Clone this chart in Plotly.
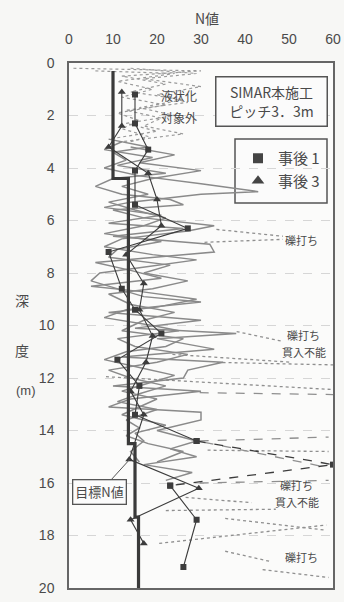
import plotly.graph_objects as go

# ---- axes ----
n_ticks = [0, 10, 20, 30, 40, 50, 60]
depth_ticks = [0, 2, 4, 6, 8, 10, 12, 14, 16, 18, 20]

# ---- 目標N値 (target N, stepped) ----
target_depth = [0.3, 4.4, 4.4, 14.5, 14.5, 17.3, 17.3, 20.0]
target_n = [10, 10, 13.5, 13.5, 15, 15, 15.8, 15.8]

# ---- 事前 continuous traces (grey) ----
pre_a_depth = [2.9, 3.2, 3.4, 3.7, 4.0, 4.3, 4.6, 4.9, 5.0, 5.3, 5.5, 5.8, 6.1, 6.3, 6.6, 6.9, 7.2, 7.4,
               7.6, 7.9, 8.2, 8.5, 8.7, 9.0, 9.3, 9.5, 9.8, 10.1, 10.3, 10.5, 10.9, 11.2, 11.4, 11.7,
               12.0, 12.3, 12.5, 12.8, 13.1, 13.3, 13.6, 14.0, 14.4, 14.7, 15.0, 15.3, 15.6, 15.9]
pre_a_n = [9, 18, 10, 13, 8, 16, 30, 43, 30, 14, 8, 21, 9, 26, 10, 32, 33, 20,
           6, 14, 21, 5, 16, 29, 20, 9, 30, 15, 38, 20, 33, 12, 35, 27,
           26, 10, 30, 14, 9, 30, 30, 20, 29, 23, 29, 17, 28, 22]

pre_b_depth = [3.0, 3.3, 3.6, 3.9, 4.2, 4.4, 4.7, 5.0, 5.2, 5.4, 5.6, 5.9, 6.2, 6.4, 6.7, 7.0, 7.3, 7.5,
               7.8, 8.0, 8.3, 8.6, 8.9, 9.1, 9.4, 9.7, 10.0, 10.2, 10.5, 10.8, 11.1, 11.4, 11.7, 12.0,
               12.3, 12.6, 12.9, 13.2, 13.6, 13.9, 14.2, 14.5, 14.8, 15.2]
pre_b_n = [12, 8, 19, 11, 22, 10, 6, 12, 23, 26, 10, 17, 33, 27, 12, 8, 19, 29,
           16, 7, 5, 11, 17, 30, 13, 8, 19, 25, 11, 15, 27, 20, 9, 14,
           22, 16, 11, 20, 13, 16, 13, 18, 26, 20]

pre_c_depth = [3.2, 3.5, 3.8, 4.1, 4.4, 4.7, 5.0, 5.3, 5.6, 5.9, 6.2, 6.5, 6.8, 7.1, 7.4, 7.7, 8.0, 8.3,
               8.6, 8.8, 9.2, 9.5, 9.8, 10.2, 10.5, 10.8, 11.0, 11.3, 11.6, 11.9, 12.2, 12.5, 12.8,
               13.1, 13.4, 13.8, 14.1, 14.4, 14.8, 15.2]
pre_c_n = [14, 24, 16, 30, 19, 12, 18, 9, 15, 22, 17, 8, 21, 11, 9, 23, 17, 27,
           19, 9, 14, 24, 17, 12, 26, 22, 13, 8, 16, 24, 18, 12, 20,
           16, 12, 22, 15, 17, 14, 16]

# ---- 液状化対象外 shallow layer (dotted) ----
top_a_depth = [0.2, 0.3, 0.5, 0.8, 1.1, 1.4, 1.7, 2.0, 2.3, 2.6, 2.9]
top_a_n = [1, 30, 12, 22, 14, 26, 16, 24, 13, 20, 9]
top_b_depth = [0.2, 0.4, 0.6, 0.9, 1.2, 1.5, 1.8, 2.1, 2.4, 2.7, 3.0]
top_b_n = [14, 29, 17, 30, 20, 27, 13, 21, 17, 26, 12]
top_c_depth = [0.3, 0.4, 0.7, 1.0, 1.3, 1.6, 1.9, 2.2, 2.5, 2.8, 3.0]
top_c_n = [6, 24, 11, 19, 12, 22, 11, 16, 12, 18, 14]

# ---- 礫打ち / 貫入不能 leaders (start N, start depth, end N, end depth, style) ----
gravel_n0 = [33.5, 30.8, 38.1, 23.5, 34.9, 8.4, 29.7, 29.7, 30.8, 31.5, 29.7, 26.5, 22.0, 35.5, 20.5, 35.5, 44.0]
gravel_d0 = [6.34, 6.83, 10.23, 11.1, 11.41, 11.95, 12.56, 14.4, 14.45, 14.75, 16.0, 16.55, 17.05, 17.35, 18.3, 18.6, 19.3]
gravel_n1 = [48.6, 48.6, 48.4, 50.6, 60, 60, 60, 59.0, 58.5, 59.0, 59.0, 41.5, 47.0, 58.5, 58.5, 46.0, 59.0]
gravel_d1 = [6.6, 6.72, 10.6, 11.4, 11.5, 12.44, 12.63, 14.25, 15.4, 14.8, 15.9, 16.75, 17.0, 17.8, 17.6, 19.0, 19.6]
gravel_dash = ["dot", "dot", "dot", "dot", "dot", "dot", "dash", "dash", "dash", "dot", "dash", "dot", "dot",
               "dot", "dot", "dot", "dot"]

# ---- 事後1 (squares) ----
post1_depth = [1.2, 2.3, 3.3, 4.1, 5.4, 6.3, 7.2, 8.6, 9.4, 10.3, 11.3, 12.3, 13.4, 14.4, 15.3, 16.1, 17.4, 19.2]
post1_n = [15, 15, 18, 15, 15, 27, 9, 12, 15, 21, 11, 16, 15, 29, 60, 23, 29, 26]

# ---- 事後3 (triangles) ----
post3_depth = [1.1, 2.4, 3.2, 4.2, 5.2, 6.2, 7.3, 8.4, 9.4, 10.4, 11.4, 12.5, 13.4, 15.1, 16.2, 17.4, 18.3]
post3_n = [12, 12, 9, 18, 20, 21, 13, 17, 16, 19, 17.5, 14, 17, 13.7, 29.5, 14, 17]

# ---- page geometry (pixels) ----
W, H = 344, 602
L, R, T, B = 69, 333, 63, 588


def fx(xp):
    return (xp - L) / (R - L)


def fy(yp):
    return 1 - (yp - T) / (B - T)


GREY = "#8a8a8a"
DARK = "#3c3c3c"
TEXT = "#4a4a4a"
FONT = "Liberation Sans, Noto Sans CJK JP, sans-serif"
JFONT = "Noto Sans CJK JP, sans-serif"

fig = go.Figure()

for dd, nn in [(top_a_depth, top_a_n), (top_b_depth, top_b_n), (top_c_depth, top_c_n)]:
    fig.add_trace(go.Scatter(x=nn, y=dd, mode="lines", showlegend=False,
                             line=dict(color="#9a9a9a", width=1.2, dash="dot")))

for i in range(len(gravel_n0)):
    fig.add_trace(go.Scatter(x=[gravel_n0[i], gravel_n1[i]], y=[gravel_d0[i], gravel_d1[i]],
                             mode="lines", showlegend=False,
                             line=dict(color="#8f8f8f", width=1.3, dash=gravel_dash[i])))

for dd, nn in [(pre_a_depth, pre_a_n), (pre_b_depth, pre_b_n), (pre_c_depth, pre_c_n)]:
    fig.add_trace(go.Scatter(x=nn, y=dd, mode="lines", showlegend=False,
                             line=dict(color=GREY, width=1.5)))

# 事後 lines: solid where penetrated, dashed where refusal reached
k = post1_depth.index(14.4)
fig.add_trace(go.Scatter(x=post1_n[:k + 1], y=post1_depth[:k + 1], mode="lines+markers", showlegend=False,
                         line=dict(color=DARK, width=1.1),
                         marker=dict(symbol="square", size=6, color=DARK)))
fig.add_trace(go.Scatter(x=post1_n[k:k + 3], y=post1_depth[k:k + 3], mode="lines+markers", showlegend=False,
                         line=dict(color=DARK, width=1.3, dash="dash"),
                         marker=dict(symbol="square", size=6, color=DARK)))
fig.add_trace(go.Scatter(x=post1_n[k + 2:], y=post1_depth[k + 2:], mode="lines+markers", showlegend=False,
                         line=dict(color=DARK, width=1.1),
                         marker=dict(symbol="square", size=6, color=DARK)))
fig.add_trace(go.Scatter(x=post3_n, y=post3_depth, mode="lines+markers", showlegend=False,
                         line=dict(color=DARK, width=1.1),
                         marker=dict(symbol="triangle-up", size=7, color=DARK)))

fig.add_trace(go.Scatter(x=target_n, y=target_depth, mode="lines", showlegend=False,
                         line=dict(color="#3a3a3a", width=3.2)))

# legend entries (markers only)
fig.add_trace(go.Scatter(x=[None], y=[None], mode="markers", name="事後 1",
                         marker=dict(symbol="square", size=10, color="#444")))
fig.add_trace(go.Scatter(x=[None], y=[None], mode="markers", name="事後 3",
                         marker=dict(symbol="triangle-up", size=11, color="#444")))


def label(text, xp, yp, size=13, family=JFONT, **kw):
    d = dict(text=text, x=fx(xp), y=fy(yp), xref="paper", yref="paper", showarrow=False,
             xanchor="center", yanchor="middle", align="center",
             font=dict(size=size, color=TEXT, family=family))
    d.update(kw)
    return d


annotations = [
    label("N値", 207, 18, 14),
    label("SIMAR本施工<br>ピッチ3．3m", 271, 101, 14,
          bordercolor="#555", borderwidth=1.5, borderpad=3, width=104, height=42, bgcolor="#fbfbfb"),
    label("液状化", 179, 96, 12),
    label("対象外", 179, 117, 12),
    label("礫打ち", 301, 240, 11),
    label("礫打ち", 303, 335, 11),
    label("貫入不能", 304, 352, 11),
    label("礫打ち", 296, 485, 11),
    label("貫入不能", 297, 502, 11),
    label("礫打ち", 301, 557, 11),
    label("深", 22, 300, 14),
    label("度", 22, 350, 14),
    label("(m)", 26, 390, 13, family=FONT),
    dict(text="目標N値", x=13.8, y=15.1, xref="x", yref="y",
         showarrow=True, arrowhead=0, arrowwidth=1, arrowcolor="#555",
         axref="pixel", ayref="pixel", ax=-30, ay=33,
         font=dict(size=13, color=TEXT, family=JFONT),
         bordercolor="#555", borderwidth=1.3, borderpad=2, bgcolor="#fbfbfb"),
]

fig.update_layout(
    width=W, height=H,
    margin=dict(l=L, r=W - R, t=T, b=H - B, autoexpand=False),
    paper_bgcolor="#f7f7f5", plot_bgcolor="#fbfbfa",
    font=dict(family=FONT, color=TEXT, size=14),
    annotations=annotations,
    shapes=[dict(type="rect", xref="paper", yref="paper", x0=fx(235), x1=fx(327), y0=fy(203), y1=fy(139),
                 line=dict(color="#555", width=1.5), fillcolor="#fbfbfb", layer="below")],
    legend=dict(x=fx(238), y=fy(142), xanchor="left", yanchor="top", bgcolor="rgba(0,0,0,0)",
                font=dict(size=15, color=TEXT, family=JFONT), itemwidth=30, tracegroupgap=0),
)

fig.update_xaxes(range=[0, 60], side="top", tickvals=n_ticks, showgrid=False, zeroline=False,
                 showline=True, mirror=True, linecolor="#666", linewidth=1.5,
                 ticks="outside", ticklen=12, tickcolor="rgba(0,0,0,0)",
                 tickfont=dict(size=14, color=TEXT))
fig.update_yaxes(range=[20, 0], tickvals=depth_ticks, showgrid=True, gridcolor="#d6d6d6",
                 griddash="dash", gridwidth=1, zeroline=False,
                 showline=True, mirror=True, linecolor="#666", linewidth=1.5,
                 ticks="outside", ticklen=10, tickcolor="rgba(0,0,0,0)",
                 tickfont=dict(size=14, color=TEXT))

fig.write_html("out.html")
